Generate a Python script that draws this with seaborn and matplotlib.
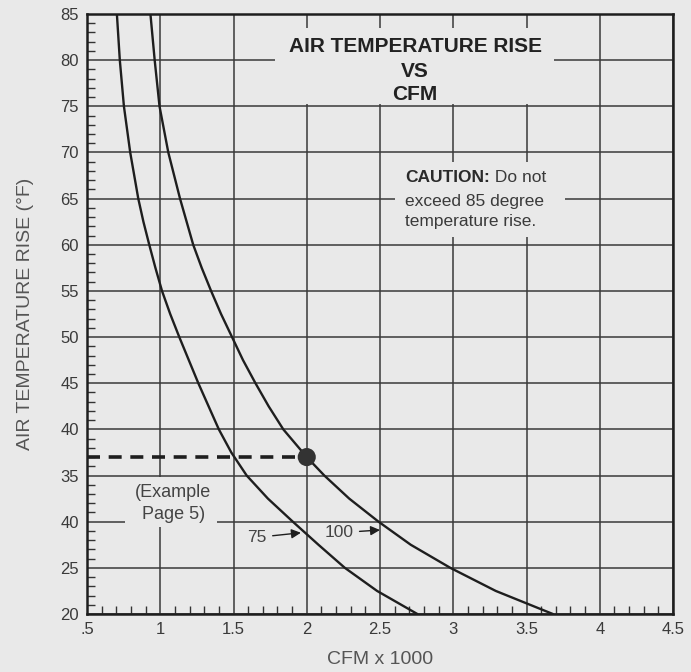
"""Air temperature rise vs CFM chart (scanned furnace manual figure)."""

import numpy as np
import pandas as pd
import matplotlib
matplotlib.use("Agg")
import matplotlib.pyplot as plt
from matplotlib.patches import Rectangle
from matplotlib.ticker import MultipleLocator, FixedLocator, FixedFormatter
import seaborn as sns

# curve readings (CFM x 1000 vs temperature rise)
temp_75 = [85, 80, 75, 70, 65, 62.5, 60, 57.5, 55, 52.5, 50, 47.5, 45, 42.5, 40, 37.5,
           35, 32.5, 30, 27.5, 25, 22.5, 20]
cfm_75 = [0.704, 0.724, 0.752, 0.795, 0.85, 0.885, 0.925, 0.967, 1.012, 1.068, 1.13, 1.195,
          1.26, 1.33, 1.40, 1.485, 1.59, 1.735, 1.905, 2.08, 2.26, 2.48, 2.755]
temp_100 = [85, 80, 75, 70, 65, 60, 57.5, 55, 52.5, 50, 47.5, 45, 42.5, 40, 37, 35,
            32.5, 30, 27.5, 25, 22.5, 20]
cfm_100 = [0.933, 0.962, 0.995, 1.055, 1.135, 1.225, 1.283, 1.347, 1.415, 1.49, 1.565, 1.65,
           1.74, 1.84, 2.0, 2.12, 2.29, 2.49, 2.71, 2.98, 3.29, 3.68]

# example point (Page 5)
ex_cfm = 2.0
ex_temp = 37

x_ticks = [0.5, 1, 1.5, 2, 2.5, 3, 3.5, 4, 4.5]
x_labels = [".5", "1", "1.5", "2", "2.5", "3", "3.5", "4", "4.5"]
y_ticks = [20, 25, 30, 35, 40, 45, 50, 55, 60, 65, 70, 75, 80, 85]
y_labels = ["20", "25", "40", "35", "40", "45", "50", "55", "60", "65", "70", "75", "80", "85"]

BG = "#e9e9e9"
INK = "#1e1e1e"

sns.set_theme(style="white")
plt.rcParams["font.family"] = ["Liberation Sans", "DejaVu Sans"]

df = pd.concat([
    pd.DataFrame({"cfm": cfm_75, "temp": temp_75, "rating": "75"}),
    pd.DataFrame({"cfm": cfm_100, "temp": temp_100, "rating": "100"}),
])

fig = plt.figure(figsize=(6.91, 6.72), dpi=100, facecolor=BG)
ax = fig.add_axes([87 / 691, 1 - 614 / 672, 586 / 691, 600 / 672])
ax.set_facecolor(BG)

ax.set_xlim(0.5, 4.5)
ax.set_ylim(20, 85)

# grid
ax.set_axisbelow(True)
ax.xaxis.set_major_locator(FixedLocator(x_ticks))
ax.xaxis.set_major_formatter(FixedFormatter(x_labels))
ax.yaxis.set_major_locator(FixedLocator(y_ticks))
ax.yaxis.set_major_formatter(FixedFormatter(y_labels))
ax.xaxis.set_minor_locator(MultipleLocator(0.1))
ax.yaxis.set_minor_locator(MultipleLocator(1))
ax.grid(True, which="major", color="#3a3a3a", lw=1.1)
ax.tick_params(which="major", length=0, pad=6, labelsize=12, labelcolor="#3a3a3a")
ax.tick_params(which="minor", direction="in", length=6, width=1, color="#333333",
               left=True, bottom=True, top=False, right=False)
for s in ax.spines.values():
    s.set_visible(True)
    s.set_color(INK)
    s.set_linewidth(1.8)

# boxes that blank out the grid behind the text
for (x0, y0, w, h) in [(1.78, 75.3, 1.91, 8.2), (2.6, 60.8, 1.16, 8.2), (0.76, 29.4, 0.63, 5.4)]:
    ax.add_patch(Rectangle((x0, y0), w, h, facecolor=BG, edgecolor="none", zorder=1))

sns.lineplot(data=df, x="cfm", y="temp", units="rating", estimator=None, sort=False,
             color=INK, lw=1.7, legend=False, ax=ax, zorder=3, solid_joinstyle="round")

ax.hlines(ex_temp, ax.get_xlim()[0], ex_cfm, colors=INK, lw=2.6,
          linestyles=(0, (3.6, 2.4)), zorder=3)
sns.scatterplot(x=[ex_cfm], y=[ex_temp], s=170, color="#333333", edgecolor="none",
                ax=ax, zorder=4)

# title block
for txt, yy in [("AIR TEMPERATURE RISE", 81.45), ("VS", 78.8), ("CFM", 76.3)]:
    ax.text(2.74, yy, txt, ha="center", va="center", fontsize=15, fontweight="bold",
            color="#222222", zorder=5)

# caution note
t1 = ax.text(2.67, 67.25, "CAUTION:", ha="left", va="center", fontsize=12.5,
             fontweight="bold", color="#2a2a2a", zorder=5)
ax.annotate(" Do not", xy=(1, 0.5), xycoords=t1, ha="left", va="center",
            fontsize=12.5, color="#3a3a3a", zorder=5)
ax.text(2.67, 64.65, "exceed 85 degree", ha="left", va="center", fontsize=12.5,
        color="#3a3a3a", zorder=5)
ax.text(2.67, 62.5, "temperature rise.", ha="left", va="center", fontsize=12.5,
        color="#3a3a3a", zorder=5)

# example note
ax.text(1.09, 33.15, "(Example", ha="center", va="center", fontsize=13, color="#444444", zorder=5)
ax.text(1.09, 30.8, "Page 5)", ha="center", va="center", fontsize=13, color="#444444", zorder=5)

# curve labels
arrow = dict(arrowstyle="-|>", color=INK, lw=1.0, mutation_scale=14, shrinkA=2, shrinkB=0)
ax.annotate("75", xy=(1.96, 28.8), xytext=(1.66, 28.3), ha="center", va="center",
            fontsize=12.5, color="#444444", arrowprops=arrow, zorder=5)
ax.annotate("100", xy=(2.5, 29.1), xytext=(2.22, 28.8), ha="center", va="center",
            fontsize=12.5, color="#444444", arrowprops=arrow, zorder=5)

ax.set_xlabel("CFM x 1000", fontsize=14, color="#555555", labelpad=10)
ax.set_ylabel("AIR TEMPERATURE RISE (°F)", fontsize=14, color="#555555", labelpad=19)

fig.savefig("out.png", dpi=100, facecolor=BG)
